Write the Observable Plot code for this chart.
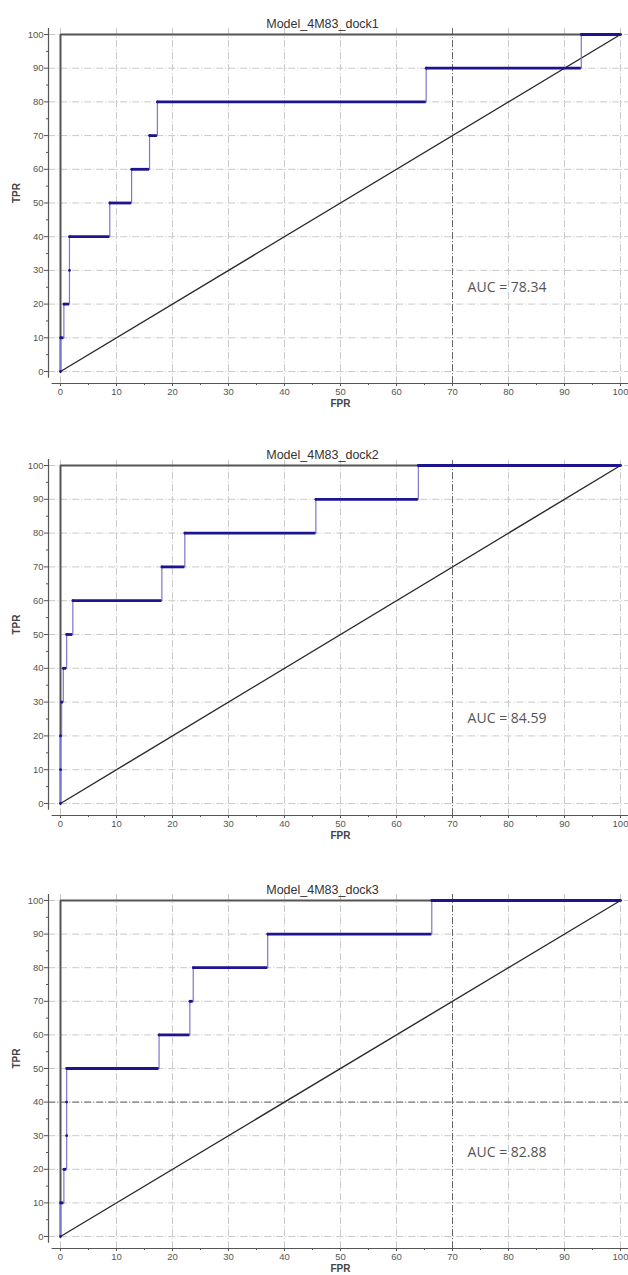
<!DOCTYPE html>
<html>
<head>
<meta charset="utf-8">
<script src="https://cdn.jsdelivr.net/npm/d3@7"></script>
<script src="https://cdn.jsdelivr.net/npm/@observablehq/plot@0.6"></script>
<style>
  html, body { margin: 0; padding: 0; background: #fff; }
  #chart svg { display: block; }
</style>
</head>
<body>
<div id="chart"></div>
<script>
// ---- Data (FPR / TPR in %) ----
const titles = ["Model_4M83_dock1", "Model_4M83_dock2", "Model_4M83_dock3"];
const aucLabels = ["AUC = 78.34", "AUC = 84.59", "AUC = 82.88"];

const tpr = [0, 10, 20, 30, 40, 50, 60, 70, 80, 90, 100, 100];
const fpr1 = [0, 0, 0.6, 1.6, 1.6, 8.8, 12.7, 15.9, 17.3, 65.3, 93.0, 100];
const fpr2 = [0, 0, 0, 0.2, 0.5, 1.1, 2.2, 18.1, 22.2, 45.6, 63.9, 100];
const fpr3 = [0, 0, 0.6, 1.1, 1.1, 1.1, 17.6, 23.1, 23.7, 37.0, 66.3, 100];
const fprSeries = [fpr1, fpr2, fpr3];

// reference lines: perfect classifier and chance diagonal
const perfectFpr = [0, 0, 100];
const perfectTpr = [0, 100, 100];
const chanceFpr = [0, 100];
const chanceTpr = [0, 100];

const majorTicks = d3.range(0, 101, 10);
const minorTicks = d3.range(5, 100, 10);
const aucPos = {fpr: 72.7, tpr: 25};
// darker crosshair grid lines visible in the reference
const darkX = [[70], [70], [70]];
const darkY = [[], [], [40]];

// ---- Layout per panel ----
const layouts = [
  {height: 431, marginTop: 34, marginBottom: 60},
  {height: 435, marginTop: 34, marginBottom: 63},
  {height: 409, marginTop: 34, marginBottom: 39}
];

const font = "'Liberation Sans', Arial, sans-serif";
const navy = "#1d1490";
const lightBlue = "#7d76cf";
const gridColor = "#c9c9c9";

function panel(i) {
  const fpr = fprSeries[i];
  const pts = fpr.map((x, j) => ({fpr: x, tpr: tpr[j]}));
  const segs = [];
  for (let j = 0; j < pts.length - 1; j++) {
    if (pts[j + 1].fpr > pts[j].fpr) segs.push({x1: pts[j].fpr, x2: pts[j + 1].fpr, y: pts[j].tpr});
  }
  const perfect = perfectFpr.map((x, j) => ({fpr: x, tpr: perfectTpr[j]}));
  const chance = chanceFpr.map((x, j) => ({fpr: x, tpr: chanceTpr[j]}));
  const L = layouts[i];
  return Plot.plot({
    width: 628,
    height: L.height,
    marginTop: L.marginTop,
    marginBottom: L.marginBottom,
    marginLeft: 60,
    marginRight: 8,
    style: {fontFamily: font, background: "#fff", overflow: "visible"},
    x: {domain: [0, 100], axis: null},
    y: {domain: [0, 100], axis: null},
    marks: [
      // grid
      Plot.ruleX(majorTicks, {y1: -3.6, y2: 101.8, stroke: gridColor, strokeWidth: 1, strokeDasharray: "7,2,1,2", clip: false}),
      Plot.ruleY(majorTicks, {x1: -2.1, x2: 102, stroke: gridColor, strokeWidth: 1, strokeDasharray: "7,2,1,2", clip: false}),
      Plot.ruleX(darkX[i], {y1: -3.6, y2: 101.8, stroke: "#666", strokeWidth: 1, strokeDasharray: "7,2,1,2"}),
      Plot.ruleY(darkY[i], {x1: -2.1, x2: 102, stroke: "#666", strokeWidth: 1, strokeDasharray: "7,2,1,2"}),
      // axis lines (offset from the plot area)
      Plot.ruleY([0], {x1: -1.5, x2: 102, dy: 12, stroke: "#555", strokeWidth: 1.2}),
      Plot.ruleX([0], {y1: -2, y2: 101.8, dx: -12, stroke: "#555", strokeWidth: 1.2}),
      Plot.axisX({ticks: majorTicks, tickSize: 3, tickPadding: 2, dy: 12, fontSize: 9.5, color: "#555", label: null, stroke: "#555"}),
      Plot.axisX({ticks: minorTicks, tickSize: 2, dy: 12, text: null, label: null, stroke: "#555"}),
      Plot.axisY({ticks: majorTicks, tickSize: 4, tickPadding: 1, dx: -12, fontSize: 9.5, color: "#555", label: null, stroke: "#555"}),
      Plot.axisY({ticks: minorTicks, tickSize: 2, dx: -12, text: null, label: null, stroke: "#555"}),
      // reference lines
      Plot.line(chance, {x: "fpr", y: "tpr", stroke: "#2a2a2a", strokeWidth: 1.4}),
      Plot.line(perfect, {x: "fpr", y: "tpr", stroke: "#555", strokeWidth: 2}),
      // ROC curve: thin light verticals, thick navy horizontals
      Plot.line(pts, {x: "fpr", y: "tpr", curve: "step-after", stroke: lightBlue, strokeWidth: 1.2}),
      Plot.ruleY(segs, {y: "y", x1: "x1", x2: "x2", stroke: navy, strokeWidth: 2.8}),
      Plot.dot(pts, {x: "fpr", y: "tpr", r: 1.4, fill: navy, stroke: null}),
      // texts
      Plot.text([titles[i]], {frameAnchor: "top", dx: -18, dy: -15, fontSize: 12.5, fill: "#333", fontFamily: font}),
      Plot.text(["FPR"], {frameAnchor: "bottom", dy: 35, fontSize: 10, fontWeight: "bold", fill: "#444", fontFamily: font}),
      Plot.text(["TPR"], {frameAnchor: "left", dx: -44, rotate: -90, fontSize: 10, fontWeight: "bold", fill: "#444", fontFamily: font}),
      Plot.text([aucLabels[i]], {x: () => aucPos.fpr, y: () => aucPos.tpr, textAnchor: "start", fontSize: 14, fill: "#555", fontFamily: "'Open Sans', 'Noto Sans', sans-serif"})
    ]
  });
}

const container = document.getElementById("chart");
for (let i = 0; i < 3; i++) container.appendChild(panel(i));
</script>
</body>
</html>
